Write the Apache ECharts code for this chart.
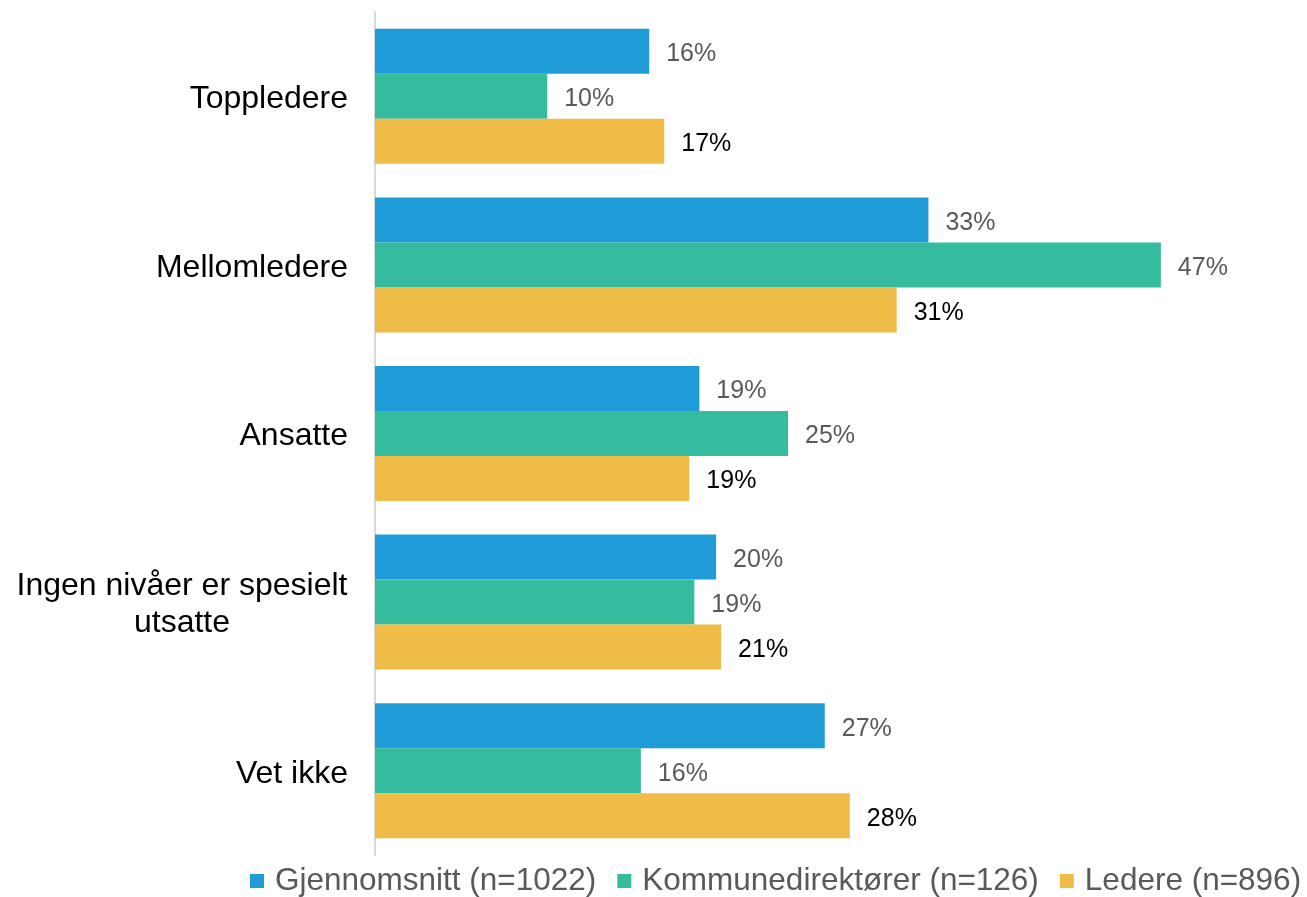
<!DOCTYPE html>
<html>
<head>
<meta charset="utf-8">
<script src="https://cdn.jsdelivr.net/npm/echarts@6/dist/echarts.min.js"></script>
<style>
  html, body { margin: 0; padding: 0; background: #fff; }
  #chart { width: 1307px; height: 897px; }
</style>
</head>
<body>
<div id="chart"></div>
<script>
const categories = ['Toppledere', 'Mellomledere', 'Ansatte', 'Ingen nivåer er spesielt\nutsatte', 'Vet ikke']
const gjennomsnitt = [16.4, 33.1, 19.4, 20.4, 26.9]
const kommunedirektorer = [10.3, 47.0, 24.7, 19.1, 15.9]
const ledere = [17.3, 31.2, 18.8, 20.7, 28.4]
const seriesNames = ['Gjennomsnitt (n=1022)', 'Kommunedirektører (n=126)', 'Ledere (n=896)']
const colors = ['#1F9BD7', '#35BB9E', '#F0BC48']

const font = 'Liberation Sans, Arial, sans-serif'

function makeSeries(name, data, color, labelColor) {
  return {
    name: name,
    type: 'bar',
    data: data,
    barWidth: 45,
    barGap: '0%',
    itemStyle: { color: color },
    label: {
      show: true,
      position: 'right',
      distance: 17,
      offset: [0, 3],
      fontSize: 25,
      fontFamily: font,
      color: labelColor,
      formatter: p => Math.round(p.value) + '%'
    }
  }
}

const chart = echarts.init(document.getElementById('chart'))
chart.setOption({
  animation: false,
  color: colors,
  grid: { left: 375, right: 96, top: 12, bottom: 42 },
  legend: {
    left: 245,
    top: 860,
    itemWidth: 14,
    itemHeight: 14,
    itemGap: 21,
    icon: 'rect',
    textStyle: { fontSize: 31.5, fontFamily: font, color: '#595959', lineHeight: 32, padding: [0, 0, 0, 6] },
    data: seriesNames
  },
  xAxis: {
    type: 'value',
    min: 0,
    max: 50,
    show: false
  },
  yAxis: {
    type: 'category',
    inverse: true,
    data: categories,
    axisLine: { show: true, lineStyle: { color: '#D9D9D9', width: 2 } },
    axisTick: { show: false },
    axisLabel: {
      margin: 27,
      fontSize: 32,
      fontFamily: font,
      color: '#000',
      lineHeight: 37,
      padding: [6, 0, 0, 0],
      formatter: v => v.includes('\n')
        ? v.split('\n').map(s => '{c|' + s + '}').join('\n')
        : v,
      rich: {
        c: { width: 332, align: 'center', fontSize: 32, fontFamily: font, color: '#000', lineHeight: 37 }
      }
    }
  },
  series: [
    makeSeries(seriesNames[0], gjennomsnitt, colors[0], '#595959'),
    makeSeries(seriesNames[1], kommunedirektorer, colors[1], '#595959'),
    makeSeries(seriesNames[2], ledere, colors[2], '#000')
  ]
})
</script>
</body>
</html>
